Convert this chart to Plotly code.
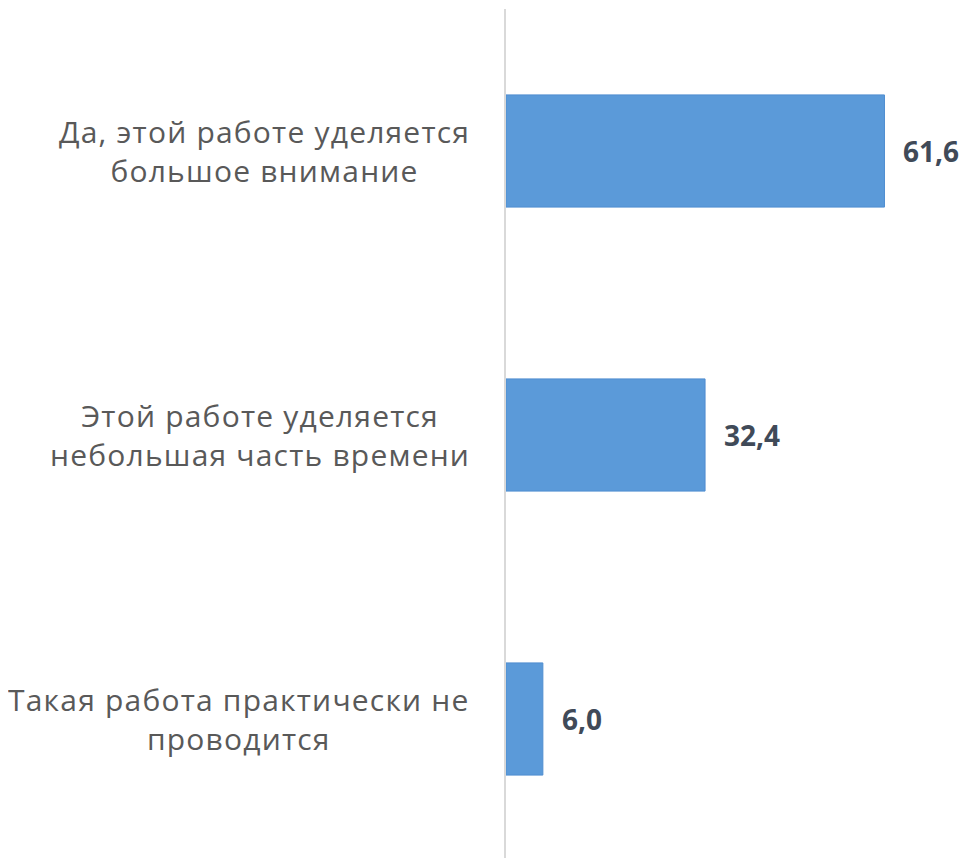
import plotly.graph_objects as go

categories = [
    "Да, этой работе уделяется<br>большое внимание",
    "Этой работе уделяется<br>небольшая часть времени",
    "Такая работа практически не<br>проводится",
]
values = [61.6, 32.4, 6.0]
value_labels = ["61,6", "32,4", "6,0"]

fig = go.Figure()
fig.add_trace(go.Bar(
    y=categories,
    x=values,
    orientation="h",
    marker=dict(color="#5b9ad9", line=dict(color="#4f8dd0", width=1)),
    hoverinfo="skip",
))

annotations = []
for c in categories:
    styled = "<br>".join(
        '<span style="letter-spacing:1.2px">' + part + "</span>" for part in c.split("<br>")
    )
    annotations.append(dict(
        x=0, y=c, xref="x", yref="y", text=styled, showarrow=False,
        xanchor="right", yanchor="middle", align="center", xshift=-34,
        font=dict(family="Open Sans, sans-serif", size=30, color="#595959"),
    ))
for c, v, t in zip(categories, values, value_labels):
    annotations.append(dict(
        x=v, y=c, xref="x", yref="y", text="<b>" + t + "</b>", showarrow=False,
        xanchor="left", yanchor="middle", xshift=17,
        font=dict(family="Open Sans, sans-serif", size=28, color="#404a58"),
    ))

fig.update_layout(
    width=976, height=858,
    margin=dict(l=498, r=0, t=1, b=5),
    paper_bgcolor="white", plot_bgcolor="white",
    showlegend=False,
    bargap=0.605,
    annotations=annotations,
    xaxis=dict(range=[0, 77.8], showgrid=False, zeroline=False,
               showticklabels=False, showline=False, ticks=""),
    yaxis=dict(autorange="reversed", showticklabels=False, showgrid=False,
               zeroline=False, showline=True, linecolor="#d9d9d9", linewidth=1.5,
               ticks=""),
)

fig.write_html("out.html")
